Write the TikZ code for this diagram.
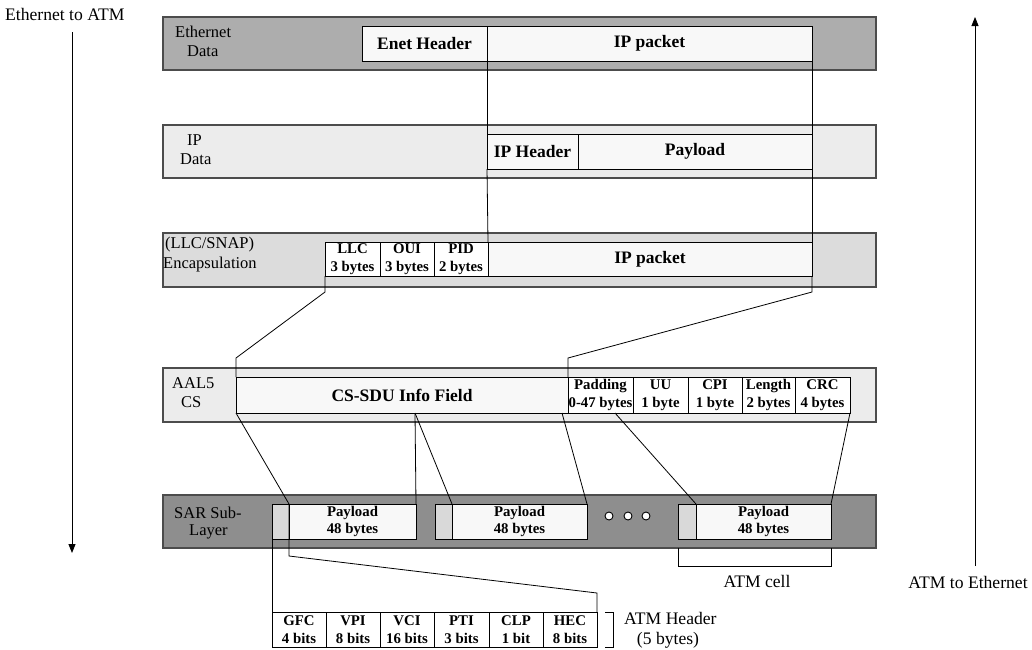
\documentclass[tikz,border=0pt]{standalone}
\usepackage{fontspec}
\setmainfont{Liberation Serif}
\usetikzlibrary{arrows.meta}
\newcommand\mkbox[7]{%
  \pgfmathsetmacro\bxw{#5-#3}%
  \pgfmathsetmacro\bxh{#6-#4}%
  \pgfmathsetmacro\bxx{(#3+#5)/2}%
  \pgfmathsetmacro\bxy{(#4+#6)/2}%
  \node[#1, minimum width=\bxw pt, minimum height=\bxh pt] (#2) at (\bxx,\bxy) {#7};%
}
\definecolor{bandA}{HTML}{ADADAD}
\definecolor{bandB}{HTML}{ECECEC}
\definecolor{bandC}{HTML}{DCDCDC}
\definecolor{bandD}{HTML}{8E8E8E}
\definecolor{hdrcol}{HTML}{D9D9D9}
\definecolor{boxcol}{HTML}{F8F8F8}
\begin{document}
\begin{tikzpicture}[x=1pt,y=-1pt,
  band/.style={draw=black!70, line width=1.1pt, inner sep=0pt, outer sep=0pt},
  fbox/.style={draw=black, line width=0.9pt, fill=boxcol, inner sep=0pt, outer sep=0pt,
    font=\fontsize{17.5}{20}\selectfont\bfseries},
  sbox/.style={draw=black, line width=1pt, fill=white, inner sep=0pt, outer sep=0pt,
    align=center, font=\fontsize{14.8}{17.5}\selectfont\bfseries},
  hbox/.style={draw=black, line width=0.9pt, fill=hdrcol, inner sep=0pt, outer sep=0pt},
  lbl/.style={inner sep=0pt, anchor=west, font=\fontsize{16.5}{19}\selectfont},
  txt/.style={inner sep=0pt, font=\fontsize{17.6}{20}\selectfont},
  conn/.style={draw=black, line width=0.8pt},
  arr/.style={draw=black, line width=0.9pt, -{Triangle[length=9pt,width=7pt]}},
  dot/.style={circle, draw=black, line width=0.9pt, fill=white, minimum size=8pt, inner sep=0pt}]
\useasboundingbox (0,0) rectangle (1032,649);
\fill[white] (0,0) rectangle (1032,649);

% side arrows and labels
\node[txt, anchor=west] (e2a) at (5,14) {Ethernet to ATM};
\coordinate (la1) at (72,32);
\coordinate (la2) at (72,553);
\draw[arr] (la1) -- (la2);
\coordinate (ra1) at (975,566);
\coordinate (ra2) at (975,17);
\draw[arr] (ra1) -- (ra2);
\node[txt] (a2e) at (968,582) {ATM to Ethernet};

% Ethernet layer
\mkbox{band, fill=bandA}{ethband}{163}{17}{876}{70}{}
\node[lbl] (ethl1) at (175,32) {Ethernet};
\node[lbl] (ethl2) at (187,51) {Data};
\mkbox{fbox}{enet}{362}{26}{487}{61}{Enet Header}
\mkbox{fbox}{enetip}{487}{26}{812}{61}{IP packet}

% IP layer
\mkbox{band, fill=bandB}{ipband}{163}{125}{876}{178}{}
\node[lbl] (ipl1) at (187,140) {IP};
\node[lbl] (ipl2) at (180,159) {Data};
\mkbox{fbox}{iphdr}{487}{134}{578}{169}{IP Header}
\mkbox{fbox}{ippay}{578}{134}{812}{169}{Payload}

% LLC/SNAP layer
\mkbox{band, fill=bandC}{llcband}{163}{233}{876}{287}{}
\node[lbl] (llcl1) at (165,245) {(LLC/SNAP)};
\node[lbl] (llcl2) at (163,265) {Encapsulation};
\mkbox{sbox}{llc}{325}{242}{380}{276}{LLC\\3 bytes}
\mkbox{sbox}{oui}{380}{242}{434}{276}{OUI\\3 bytes}
\mkbox{sbox}{pid}{434}{242}{488}{276}{PID\\2 bytes}
\mkbox{fbox}{llcip}{488}{242}{812}{276}{IP packet}

% AAL5 CS layer
\mkbox{band, fill=bandB}{aalband}{163}{368}{876}{422}{}
\node[lbl] (aall1) at (172,383) {AAL5};
\node[lbl] (aall2) at (181,402) {CS};
\mkbox{fbox}{cssdu}{236}{377}{568}{413}{CS-SDU Info Field}
\mkbox{sbox}{pad}{568}{377}{633}{413}{Padding\\0-47 bytes}
\mkbox{sbox}{uu}{633}{377}{688}{413}{UU\\1 byte}
\mkbox{sbox}{cpi}{688}{377}{742}{413}{CPI\\1 byte}
\mkbox{sbox}{len}{742}{377}{795}{413}{Length\\2 bytes}
\mkbox{sbox}{crc}{795}{377}{850}{413}{CRC\\4 bytes}

% SAR layer
\mkbox{band, fill=bandD}{sarband}{163}{495}{876}{548}{}
\node[lbl] (sarl1) at (174,513) {SAR Sub-};
\node[lbl] (sarl2) at (189,532) {Layer};
\mkbox{hbox}{h1}{272}{504}{289}{539}{}
\mkbox{sbox, fill=boxcol}{p1}{289}{504}{416}{539}{Payload\\48 bytes}
\mkbox{hbox}{h2}{435}{504}{452}{539}{}
\mkbox{sbox, fill=boxcol}{p2}{452}{504}{587}{539}{Payload\\48 bytes}
\mkbox{hbox}{h3}{678}{504}{696}{539}{}
\mkbox{sbox, fill=boxcol}{p3}{696}{504}{831}{539}{Payload\\48 bytes}
\node[dot] (d1) at (609,516) {};
\node[dot] (d2) at (628,516) {};
\node[dot] (d3) at (646,516) {};

% ATM cell bracket
\coordinate (cb1) at (678,548);
\coordinate (cb2) at (678,566);
\coordinate (cb3) at (831,566);
\coordinate (cb4) at (831,548);
\draw[conn] (cb1) -- (cb2) -- (cb3) -- (cb4);
\node[txt] (atmcell) at (757,581) {ATM cell};

% ATM header
\mkbox{sbox}{gfc}{272}{612}{326}{647}{GFC\\4 bits}
\mkbox{sbox}{vpi}{326}{612}{380}{647}{VPI\\8 bits}
\mkbox{sbox}{vci}{380}{612}{434}{647}{VCI\\16 bits}
\mkbox{sbox}{pti}{434}{612}{489}{647}{PTI\\3 bits}
\mkbox{sbox}{clp}{489}{612}{543}{647}{CLP\\1 bit}
\mkbox{sbox}{hec}{543}{612}{597}{647}{HEC\\8 bits}
\coordinate (hb1) at (605,612);
\coordinate (hb2) at (613,612);
\coordinate (hb3) at (613,647);
\coordinate (hb4) at (605,647);
\draw[conn] (hb1) -- (hb2) -- (hb3) -- (hb4);
\node[txt, anchor=west] (atmh1) at (624,618) {ATM Header};
\node[txt] (atmh2) at (668,640) {(5 bytes)};

% connectors Ethernet -> IP -> LLC
\draw[conn] (enetip.south west) -- (iphdr.north west);
\draw[conn] (enetip.south east) -- (ippay.north east);
\draw[conn] (iphdr.south west) -- (llcip.north west);
\draw[conn] (ippay.south east) -- (llcip.north east);

% LLC -> AAL5
\coordinate (k1) at (325,292);
\coordinate (k2) at (236,358);
\coordinate (k3) at (812,292);
\coordinate (k4) at (568,358);
\draw[conn] (llc.south west) -- (k1) -- (k2) -- (cssdu.north west);
\draw[conn] (llcip.south east) -- (k3) -- (k4) -- (pad.north west);

% AAL5 -> SAR
\coordinate (s1) at (415,413);
\coordinate (s2) at (562,413);
\coordinate (s3) at (615,413);
\coordinate (q1) at (289,556);
\coordinate (q2) at (597,593);
\draw[conn] (cssdu.south west) -- (p1.north west) -- (q1) -- (q2) -- (hec.north east);
\draw[conn] (s1) -- (p1.north east);
\draw[conn] (s1) -- (p2.north west);
\draw[conn] (s2) -- (p2.north east);
\draw[conn] (s3) -- (p3.north west);
\draw[conn] (crc.south east) -- (p3.north east);
\draw[conn] (h1.south west) -- (gfc.north west);
\end{tikzpicture}
\end{document}
